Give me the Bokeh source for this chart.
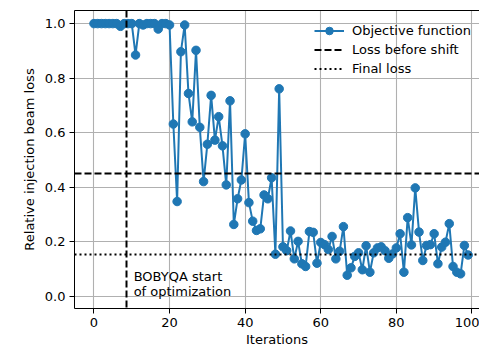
from bokeh.plotting import figure
from bokeh.models import (Range1d, Label, Legend, LegendItem, FixedTicker,
                          NumeralTickFormatter, LinearAxis, ColumnDataSource)
from bokeh.embed import file_html
from bokeh.resources import INLINE

iterations = list(range(100))
loss = [1.0, 1.0, 1.0, 1.0, 1.0, 1.0, 1.0, 0.99, 1.0, 1.0,
        1.0, 0.885, 1.0, 0.995, 1.0, 1.0, 1.0, 0.98, 1.0, 1.0,
        0.995, 0.632, 0.348, 0.897, 0.995, 0.744, 0.640, 0.902, 0.620, 0.421,
        0.558, 0.737, 0.573, 0.659, 0.552, 0.409, 0.717, 0.264, 0.358, 0.427,
        0.596, 0.344, 0.276, 0.242, 0.248, 0.372, 0.358, 0.435, 0.155, 0.761,
        0.182, 0.168, 0.240, 0.138, 0.202, 0.120, 0.110, 0.238, 0.235, 0.122,
        0.198, 0.190, 0.172, 0.220, 0.138, 0.166, 0.256, 0.078, 0.105, 0.147,
        0.160, 0.098, 0.186, 0.089, 0.160, 0.178, 0.182, 0.168, 0.140, 0.156,
        0.178, 0.230, 0.089, 0.289, 0.189, 0.398, 0.236, 0.132, 0.187, 0.190,
        0.230, 0.120, 0.181, 0.199, 0.267, 0.110, 0.089, 0.083, 0.187, 0.152]
shift_iteration = [8.5]
loss_before_shift = [0.45]
final_loss = [0.153]
x_ticks = [0, 20, 40, 60, 80, 100]
y_ticks = [0.0, 0.2, 0.4, 0.6, 0.8, 1.0]
annotation = "BOBYQA start\nof optimization"
annotation_x = 10.5
annotation_y = -0.01

FONT = "DejaVu Sans"
BLUE = "#1f77b4"

p = figure(width=479, height=349, output_backend="svg", toolbar_location=None,
           x_range=Range1d(-5.15, 102.0), y_range=Range1d(-0.044, 1.048),
           min_border_left=74, min_border_right=0, min_border_top=10,
           min_border_bottom=41)
p.outline_line_color = None
p.background_fill_color = "white"
p.border_fill_color = "white"

xax = p.below[0]
yax = p.left[0]

# top spine
top_ax = LinearAxis(ticker=FixedTicker(ticks=[]), axis_line_color="black",
                    axis_line_width=1, major_tick_line_color=None,
                    minor_tick_line_color=None, major_label_text_font_size="0px")
p.add_layout(top_ax, "above")

for ax in (xax, yax):
    ax.axis_line_color = "black"
    ax.axis_line_width = 1
    ax.major_tick_out = 5
    ax.major_tick_in = 0
    ax.major_tick_line_color = "black"
    ax.minor_tick_line_color = None
    ax.major_label_text_font = FONT
    ax.major_label_text_font_size = "13px"
    ax.major_label_text_color = "black"
    ax.axis_label_text_font = FONT
    ax.axis_label_text_font_size = "13px"
    ax.axis_label_text_font_style = "normal"
    ax.axis_label_text_color = "black"

xax.ticker = FixedTicker(ticks=x_ticks)
yax.ticker = FixedTicker(ticks=y_ticks)
yax.formatter = NumeralTickFormatter(format="0.0")
xax.axis_label = "Iterations"
yax.axis_label = "Relative injection beam loss"
xax.major_label_standoff = 4
yax.major_label_standoff = 4
xax.axis_label_standoff = 2
yax.axis_label_standoff = 5

p.xgrid.ticker = FixedTicker(ticks=x_ticks)
p.ygrid.ticker = FixedTicker(ticks=y_ticks)
for g in (p.xgrid[0], p.ygrid[0]):
    g.grid_line_color = "#b0b0b0"
    g.grid_line_width = 1.1

src = ColumnDataSource(dict(x=iterations, y=loss))
r_line = p.line("x", "y", source=src, line_color=BLUE, line_width=2)
r_pts = p.scatter("x", "y", source=src, size=8.5, fill_color=BLUE, line_color=BLUE)

r_v = p.vspan(x=shift_iteration, line_color="black", line_width=2, line_dash="7 3")
r_dash = p.hspan(y=loss_before_shift, line_color="black", line_width=2, line_dash="7 3")
r_dot = p.hspan(y=final_loss, line_color="black", line_width=2, line_dash="2 3")

p.add_layout(Label(x=annotation_x, y=annotation_y, text=annotation,
                   text_font=FONT, text_font_size="13px", text_color="black",
                   text_baseline="bottom", text_align="left", text_line_height=1.0))

legend = Legend(items=[LegendItem(label="Objective function", renderers=[r_line, r_pts]),
                       LegendItem(label="Loss before shift", renderers=[r_dash]),
                       LegendItem(label="Final loss", renderers=[r_dot])],
                location=(240, 230))
legend.label_text_font = FONT
legend.label_text_font_size = "13px"
legend.label_text_color = "black"
legend.background_fill_alpha = 0
legend.border_line_color = None
legend.glyph_width = 30
legend.glyph_height = 19
legend.label_height = 19
legend.label_standoff = 8
legend.spacing = 0
legend.padding = 5
legend.margin = 0
p.add_layout(legend)

open("out.html", "w").write(file_html(p, INLINE))
